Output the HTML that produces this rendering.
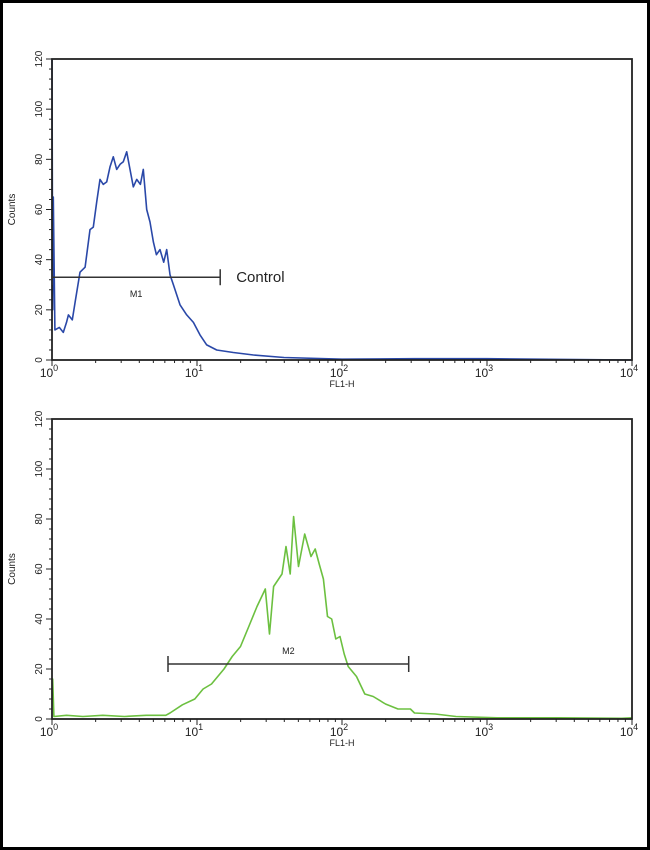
<!DOCTYPE html>
<html><head><meta charset="utf-8"><style>
html,body{margin:0;padding:0;background:#fff}
svg{display:block;font-family:"Liberation Sans",sans-serif}
</style></head><body>
<svg id="c" width="650" height="850" viewBox="0 0 650 850">
<rect x="1.5" y="1.5" width="647" height="847" fill="#fff" stroke="#000" stroke-width="3"/>
</svg>
<script>
// Control histogram (log10 FL1-H, counts)
const ctrlLog=[0,0.005,0.009,0.02,0.05,0.078,0.1,0.113,0.14,0.159,0.193,0.228,0.262,0.285,0.308,0.331,0.354,0.377,0.4,0.423,0.446,0.47,0.492,0.515,0.538,0.561,0.584,0.61,0.63,0.653,0.676,0.699,0.72,0.745,0.77,0.791,0.814,0.837,0.86,0.883,0.929,0.975,1.021,1.067,1.136,1.25,1.39,1.6,2.0,2.5,3.0,4.0];
const ctrlCounts=[120,20,65,12,13,11,15,18,16,23,35,37,52,53,63,72,70,71,77,81,76,78,79,83,76,69,72,70,76,60,55,47,42,44,39,44,34,30,26,22,18,15,10,6,4,3,2,1,0.3,0.5,0.5,0];
// Sample histogram
const sampLog=[0,0.005,0.013,0.1,0.213,0.35,0.499,0.65,0.785,0.814,0.899,0.985,1.042,1.1,1.186,1.243,1.3,1.357,1.414,1.471,1.5,1.528,1.586,1.614,1.643,1.666,1.7,1.743,1.786,1.815,1.843,1.872,1.9,1.929,1.957,1.986,2.015,2.043,2.1,2.157,2.215,2.3,2.386,2.472,2.5,2.643,2.786,3.07,3.5,3.93,4.0];
const sampCounts=[16,16,1,1.5,1,1.5,1,1.5,1.5,2.4,5.7,8,12,14,20,25,29,37,45,52,34,53,58,69,58,81,61,74,65,68,62,56,41,40,32,33,26,21,17,10,9,6,4,4,2.4,2,1,0.5,0.5,0.3,0.5];
const yTicks=[0,20,40,60,80,100,120];
const xDecades=[0,1,2,3,4];
const markers=[{lo:0,hi:1.16,y:33,label:"M1"},{lo:0.8,hi:2.46,y:22,label:"M2"}];

const svg=document.getElementById('c');
const NS="http://www.w3.org/2000/svg";
function mk(t,a,p){const e=document.createElementNS(NS,t);for(const k in a)e.setAttribute(k,a[k]);(p||svg).appendChild(e);return e;}

function panel(top,bottom,logs,counts,color,name,mark,extra){
  const L=52,R=632;
  const X=v=>L+(R-L)*v/4;
  const Y=v=>bottom-(bottom-top)*Math.min(v,120)/120;
  const g=mk('g',{});
  
  
  let d='M'+X(logs[0])+','+Y(counts[0]);
  for(let i=1;i<logs.length;i++){d+=' L'+X(logs[i]).toFixed(1)+','+Y(counts[i]).toFixed(1);}
  const p=mk('path',{d:d,fill:'none',stroke:color,'stroke-width':1.6,'stroke-linejoin':'round'},g);
  
  
  const f=mk('rect',{x:L,y:top,width:R-L,height:bottom-top,fill:'none',stroke:'#222','stroke-width':1.8},g);
  
  
  for(let v=0;v<=120;v+=4){mk('line',{x1:L-(v%20?3:6),x2:L,y1:Y(v),y2:Y(v),stroke:'#222','stroke-width':1},g);}
  yTicks.forEach(v=>{
    const t=mk('text',{x:0,y:0,transform:'translate(42,'+Y(v)+') rotate(-90)','text-anchor':'middle','font-size':10,fill:'#222'},g);
    t.textContent=v;
    
    
  });
  const yt=mk('text',{transform:'translate(15,'+((top+bottom)/2)+') rotate(-90)','text-anchor':'middle','font-size':10,fill:'#222'},g);
  yt.textContent='Counts';
  
  
  for(let d0=0;d0<4;d0++){for(let k=1;k<=10;k++){const x=X(d0+Math.log10(k));mk('line',{x1:x,x2:x,y1:bottom,y2:bottom+(k===1||k===10?6:3),stroke:'#222','stroke-width':1},g);}}
  xDecades.forEach(v=>{
    const t=mk('text',{x:X(v)-3,y:bottom+17,'text-anchor':'middle','font-size':12,fill:'#222'},g);
    t.textContent='10';
    const s=mk('tspan',{dy:-6,'font-size':9},t);s.textContent=v;
    
    
  });
  const xt=mk('text',{x:X(2),y:bottom+27,'text-anchor':'middle','font-size':9,fill:'#222'},g);
  xt.textContent='FL1-H';
  
  
  const my=Y(mark.y),x1=X(mark.lo),x2=X(mark.hi);
  const mg=mk('g',{},g);
  
  
  mk('line',{x1:x1,x2:x2,y1:my,y2:my,stroke:'#333','stroke-width':1.5},mg);
  mk('line',{x1:x1,x2:x1,y1:my-8,y2:my+8,stroke:'#333','stroke-width':1.5},mg);
  mk('line',{x1:x2,x2:x2,y1:my-8,y2:my+8,stroke:'#333','stroke-width':1.5},mg);
  const ml=mk('text',{x:(x1+x2)/2,y:mark.label==='M1'?my+20:my-10,'text-anchor':'middle','font-size':9,fill:'#222'},mg);
  ml.textContent=mark.label;
  if(extra){
    const c=mk('text',{x:x2+16,y:my+5,'font-size':15,fill:'#222'},g);
    c.textContent=extra;
    
    
  }
}
panel(59,360,ctrlLog,ctrlCounts,'#2a48a8','control-panel',markers[0],'Control');
panel(419,719,sampLog,sampCounts,'#6cc040','sample-panel',markers[1],null);
</script>
</body></html>
